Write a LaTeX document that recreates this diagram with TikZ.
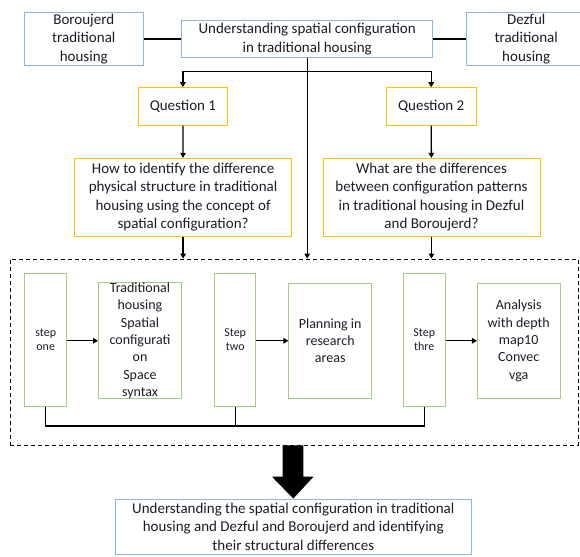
\documentclass[tikz,border=0pt]{standalone}
\usepackage{fontspec}
\setmainfont{Carlito}
\usetikzlibrary{arrows.meta}
\definecolor{bluebd}{RGB}{141,180,226}
\definecolor{yellowbd}{RGB}{255,192,0}
\definecolor{greenbd}{RGB}{160,205,130}
\definecolor{txt}{RGB}{28,28,40}
\tikzset{
  box/.style={draw, line width=0.9pt, inner sep=0pt, align=center, text=txt,
    font=\fontsize{15}{18.5}\selectfont},
  bluebox/.style={box, draw=bluebd},
  yelbox/.style={box, draw=yellowbd},
  grnbox/.style={box, draw=greenbd, font=\fontsize{14}{17.3}\selectfont},
  stepbox/.style={box, draw=greenbd, font=\fontsize{12}{14.3}\selectfont},
  conn/.style={line width=1.3pt, black},
  arr/.style={conn, -{Triangle[length=5pt,width=5.5pt]}},
}
\begin{document}
\begin{tikzpicture}[x=1pt,y=-1pt]
\useasboundingbox (0,0) rectangle (580,556);
% top row
\node[bluebox, minimum width=119pt, minimum height=53.4pt] (bor) at (83.8,39) {Boroujerd\\traditional\\housing};
\node[bluebox, minimum width=251pt, minimum height=36.6pt] (top) at (307.2,39) {Understanding spatial configuration\\in traditional housing};
\node[bluebox, minimum width=119pt, minimum height=53.4pt] (dez) at (526.2,39) {Dezful\\traditional\\housing};
% questions
\node[yelbox, minimum width=89.2pt, minimum height=37.6pt] (q1) at (182.9,106.5) {Question 1};
\node[yelbox, minimum width=89.5pt, minimum height=37.6pt] (q2) at (431.2,106.5) {Question 2};
\node[yelbox, minimum width=216.7pt, minimum height=77.7pt] (y1) at (183.1,197.2) {How to identify the difference\\physical structure in traditional\\housing using the concept of\\spatial configuration?};
\node[yelbox, minimum width=217pt, minimum height=77.7pt] (y2) at (431.5,197.2) {What are the differences\\between configuration patterns\\in traditional housing in Dezful\\and Boroujerd?};
% dashed frame
\node[draw, line width=0.8pt, dash pattern=on 4pt off 3pt, minimum width=568pt, minimum height=186pt, inner sep=0pt] (frame) at (294,352) {};
% steps
\node[stepbox, minimum width=41.9pt, minimum height=132.7pt] (s1) at (45.7,339.7) {step\\one};
\node[grnbox, minimum width=83pt, minimum height=115pt] (g1) at (140,340.8) {Traditional\\housing\\Spatial\\configurati\\on\\Space\\syntax};
\node[stepbox, minimum width=40.8pt, minimum height=132.7pt] (s2) at (235.2,339.7) {Step\\two};
\node[grnbox, minimum width=82.6pt, minimum height=115pt] (g2) at (330.2,340.8) {Planning in\\research\\areas};
\node[stepbox, minimum width=42.6pt, minimum height=132.7pt] (s3) at (424.3,339.7) {Step\\thre};
\node[grnbox, minimum width=82.6pt, minimum height=115pt] (g3) at (518.7,340.8) {Analysis\\with depth\\map10\\Convec\\vga};
% bottom
\node[bluebox, minimum width=356.7pt, minimum height=55pt] (res) at (293.3,526.5) {Understanding the spatial configuration in traditional\\housing and Dezful and Boroujerd and identifying\\their structural differences};
% connectors
\draw[conn] (bor) -- (top);
\draw[conn] (top) -- (dez);
\coordinate (br) at (307.2,71.7);
\draw[arr] (top.south) -- (top.south |- frame.north);
\draw[arr] (br) -| (q1.north);
\draw[arr] (br) -| (q2.north);
\draw[arr] (q1) -- (y1);
\draw[arr] (q2) -- (y2);
\draw[arr] (y1.south) -- (y1.south |- frame.north);
\draw[arr] (y2.south) -- (y2.south |- frame.north);
\draw[arr] (s1.east |- g1) -- (g1);
\draw[arr] (s2.east |- g2) -- (g2);
\draw[arr] (s3.east |- g3) -- (g3);
\coordinate (bus) at (0,426);
\draw[conn] (s1.south) |- (bus -| s3.south) -- (s3.south);
\draw[conn] (s2.south) -- (bus -| s2.south);
% block arrow
\coordinate (bal) at (282.7,476.7);
\coordinate (bar) at (303.3,476.7);
\fill[black] (res.north) -- (272,476.7) -- (bal) -- (bal |- frame.south) -- (bar |- frame.south) -- (bar) -- (313.5,476.7) -- cycle;
\end{tikzpicture}
\end{document}
